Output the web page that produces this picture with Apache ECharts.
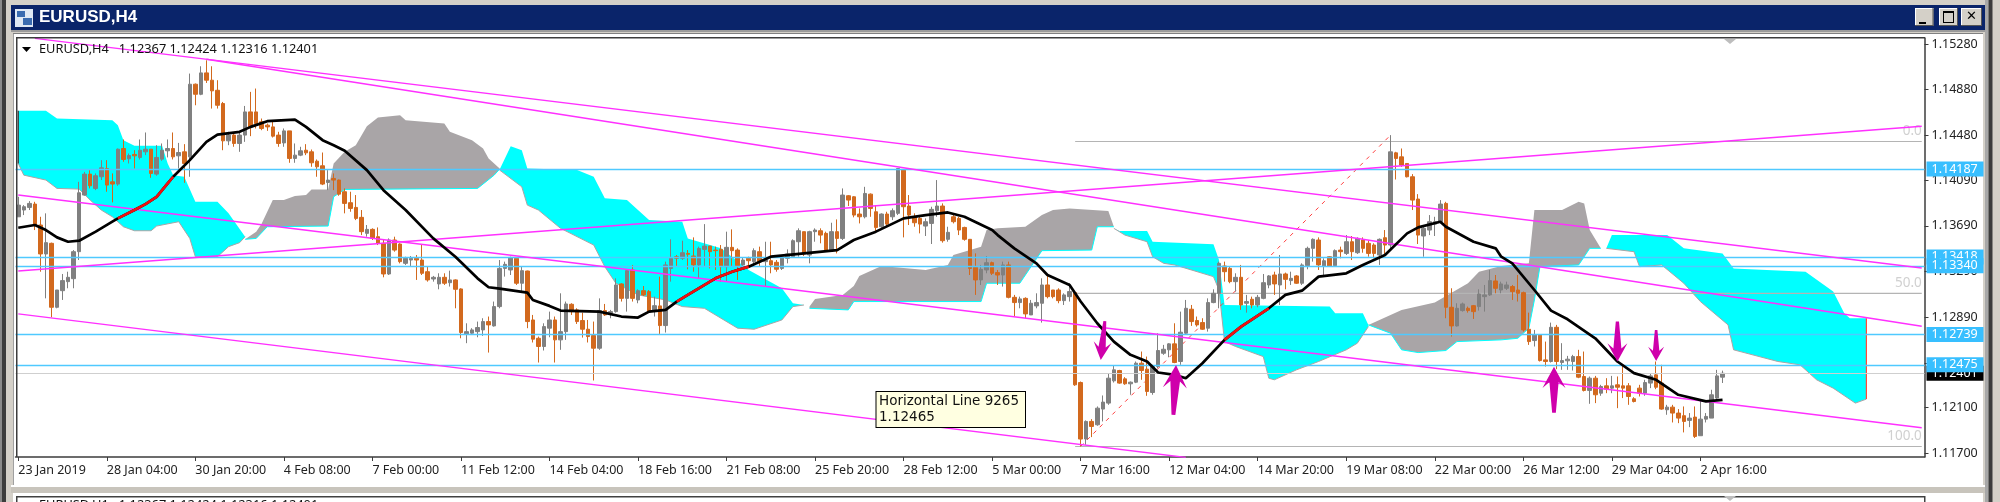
<!DOCTYPE html>
<html><head><meta charset="utf-8"><title>EURUSD,H4</title>
<style>html,body{margin:0;padding:0;background:#d4d0c8}#c{width:2000px;height:502px}</style>
<script src="https://cdn.jsdelivr.net/npm/echarts@6/dist/echarts.min.js"></script></head>
<body><div id="c"></div>
<script>
// Prices below are in units of 0.00001
const tickLabels=['23 Jan 2019','28 Jan 04:00','30 Jan 20:00','4 Feb 08:00','7 Feb 00:00','11 Feb 12:00','14 Feb 04:00','18 Feb 16:00','21 Feb 08:00','25 Feb 20:00','28 Feb 12:00','5 Mar 00:00','7 Mar 16:00','12 Mar 04:00','14 Mar 20:00','19 Mar 08:00','22 Mar 00:00','26 Mar 12:00','29 Mar 04:00','2 Apr 16:00'];
const priceTicks=[1.1528,1.1488,1.1448,1.1409,1.1369,1.1329,1.1289,1.1249,1.121,1.117];
// [open, close, low, high]
const candleRows=[
[113769,113871,113769,113944],[113828,113857,113784,113871],[113851,113886,113828,113906],[113880,113697,113653,113900],[113697,113444,113289,113769],[113444,113543,113056,113799],[113537,112978,112891,113543],[112978,113129,112969,113129],[113123,113211,113042,113269],[113202,113240,113144,113289],
[113228,113464,113144,113478],[113464,113979,113391,114075],[113959,114142,113953,114162],[114142,114040,114017,114177],[114017,114128,114002,114148],[114119,114197,114090,114264],[114191,114046,113988,114264],[114075,114055,113895,114148],[114055,114360,114040,114366],[114366,114270,114250,114445],
[114276,114305,114235,114322],[114314,114302,114191,114351],[114288,114351,114270,114445],[114337,114360,114308,114506],[114360,114148,114110,114360],[114142,114288,114128,114395],[114273,114351,114258,114410],[114346,114366,114288,114445],[114366,114293,114270,114506],[114302,114331,114191,114415],
[114337,114235,114066,114404],[114293,114928,114119,115021],[114928,114840,114744,114934],[114840,115027,114832,115085],[115027,114963,114939,115137],[114963,114870,114715,115085],[114875,114744,114715,114963],[114759,114433,114351,114773],[114433,114483,114395,114512],[114483,114410,114381,114506],
[114410,114483,114337,114512],[114483,114686,114424,114738],[114686,114555,114474,114861],[114686,114584,114541,114890],[114599,114541,114526,114628],[114570,114555,114520,114584],[114555,114474,114462,114599],[114483,114410,114381,114512],[114415,114520,114381,114541],[114520,114279,114241,114520],
[114279,114308,114241,114410],[114308,114346,114299,114381],[114351,114328,114308,114404],[114337,114241,114206,114357],[114255,114206,114119,114270],[114215,114055,114046,114331],[114069,114090,114002,114177],[114104,114090,114002,114148],[114090,113967,113953,114095],[113988,113886,113799,114017],
[113892,113842,113813,113988],[113851,113755,113740,113959],[113764,113639,113609,113828],[113624,113659,113595,113697],[113659,113580,113566,113668],[113595,113537,113522,113676],[113537,113269,113240,113572],[113269,113566,113260,113580],[113566,113478,113464,113595],[113531,113377,113362,113537],
[113362,113406,113348,113420],[113391,113406,113339,113426],[113406,113391,113217,113435],[113391,113275,113260,113522],[113289,113217,113202,113333],[113225,113240,113202,113252],[113182,113240,113135,113275],[113240,113188,113173,113275],[113193,113217,113159,113298],[113217,113135,112969,113222],
[113138,112757,112707,113144],[112745,112765,112664,112838],[112751,112780,112736,112795],[112765,112801,112716,112853],[112780,112853,112728,112882],[112853,112824,112582,112897],[112815,112984,112809,113028],[112984,113318,112969,113391],[113318,113353,113246,113377],[113304,113414,113260,113420],
[113406,113188,113173,113406],[113188,113298,113121,113333],[113295,112853,112795,113298],[112867,112699,112670,112911],[112707,112635,112495,112722],[112635,112809,112600,112838],[112795,112867,112716,112940],[112867,112693,112495,112897],[112693,112765,112606,113100],[112765,113007,112693,113028],
[113004,112940,112911,113013],[112955,112853,112832,112969],[112862,112786,112713,112931],[112786,112722,112670,112867],[112731,112620,112338,112853],[112620,112949,112606,113056],[112949,112911,112902,113007],[112926,112940,112882,112955],[112940,113173,112931,113231],[113182,113056,113028,113188],
[113056,113298,112940,113304],[113304,113056,113028,113348],[113042,113123,113013,113135],[113123,113086,113077,113164],[113115,112940,112934,113129],[112946,112992,112897,113071],[112990,112818,112745,113246],[112818,113348,112757,113377],[113318,113406,113202,113572],[113420,113406,113333,113435],
[113406,113455,113391,113560],[113449,113441,113310,113478],[113426,113348,113289,113589],[113348,113493,113231,113508],[113484,113513,113333,113705],[113513,113464,113318,113513],[113478,113473,113304,113508],[113484,113333,113202,113522],[113333,113502,113202,113639],[113502,113473,113333,113659],
[113478,113342,113217,113493],[113348,113391,113318,113414],[113406,113385,113333,113420],[113377,113473,113333,113493],[113464,113377,113333,113508],[113377,113391,113164,113551],[113385,113348,113275,113551],[113371,113310,113289,113391],[113318,113414,113304,113420],[113406,113444,113362,113484],
[113420,113560,113414,113572],[113551,113647,113420,113668],[113639,113444,113426,113639],[113435,113639,113362,113647],[113639,113653,113551,113668],[113647,113609,113537,113668],[113624,113478,113464,113639],[113478,113639,113464,113717],[113639,113580,113449,113746],[113580,113959,113566,114017],
[113953,113915,113863,113959],[113944,113784,113764,113950],[113793,113769,113711,113842],[113769,113973,113755,114031],[113967,113842,113769,113973],[113813,113676,113639,113871],[113682,113793,113668,113799],[113793,113705,113682,113813],[113769,113822,113740,113842],[113799,114191,113784,114191],
[114177,113857,113589,114183],[113863,113784,113697,113959],[113769,113717,113682,113799],[113755,113705,113624,113769],[113688,113726,113601,113755],[113711,113834,113531,113857],[113822,113863,113769,114090],[113863,113560,113543,113886],[113572,113633,113551,113682],[113769,113726,113711,113784],
[113755,113653,113609,113769],[113676,113572,113560,113682],[113572,113318,113260,113572],[113327,113217,113086,113449],[113217,113310,113173,113348],[113304,113368,113275,113426],[113368,113275,113260,113377],[113281,113260,113173,113304],[113260,113348,113159,113377],[113348,113065,113056,113377],
[113065,113019,112897,113086],[113019,113051,112969,113071],[113056,112920,112882,113065],[112911,113013,112911,113042],[112990,113019,112969,113100],[113013,113173,112844,113231],[113173,113071,113056,113260],[113129,113071,113056,113129],[113129,113036,113013,113144],[113036,113086,112998,113100],
[113071,113115,113028,113188],[113106,112300,112291,113115],[112320,111826,111762,112329],[111826,111980,111776,111989],[111980,111936,111843,112000],[111951,112096,111942,112111],[112088,112149,111980,112207],[112140,112358,112125,112402],[112335,112431,112320,112466],[112425,112315,112309,112431],
[112352,112309,112300,112367],[112309,112323,112213,112329],[112323,112489,112315,112504],[112489,112425,112344,112591],[112437,112242,112204,112547],[112233,112460,112213,112475],[112460,112600,112446,112751],[112576,112611,112562,112649],[112606,112658,112541,112664],[112658,112495,112489,112838],
[112504,112760,112475,112940],[112751,112969,112736,113042],[112961,112853,112815,112998],[112862,112824,112809,112897],[112844,112786,112780,112882],[112795,113019,112765,113056],[113019,113100,113013,113135],[113100,113362,112969,113377],[113339,113289,113202,113377],[113318,113202,113188,113333],
[113202,113240,113115,113275],[113240,112998,112955,113348],[113013,113028,112931,113086],[113048,112998,112969,113071],[112998,113065,112978,113086],[113056,113193,113048,113269],[113173,113252,113144,113260],[113260,113182,113086,113289],[113173,113269,112998,113435],[113269,113222,113135,113281],
[113211,113231,113173,113289],[113252,113188,113182,113260],[113188,113348,113173,113362],[113342,113493,113310,113508],[113493,113572,113377,113580],[113566,113348,113304,113589],[113339,113385,113260,113406],[113420,113339,113333,113426],[113342,113473,113333,113484],[113478,113464,113406,113508],
[113449,113551,113435,113609],[113551,113464,113391,113601],[113455,113580,113444,113589],[113566,113493,113455,113589],[113537,113449,113420,113566],[113522,113449,113406,113537],[113435,113572,113348,113580],[113586,113522,113435,113653],[113522,114337,113493,114483],[114328,114279,114095,114337],
[114293,114221,114206,114366],[114235,114119,114113,114235],[114119,113915,113828,114142],[113924,113609,113531,113967],[113601,113668,113420,113682],[113653,113726,113609,113784],[113705,113726,113601,113769],[113726,113880,113711,113915],[113886,112978,112882,113900],[112978,112815,112722,113144],
[112815,112969,112809,113013],[112949,113007,112940,113019],[112969,112949,112931,112984],[112992,112940,112876,112998],[112984,113094,112949,113135],[113071,113086,112940,113173],[113086,113211,113077,113304],[113208,113144,113100,113260],[113129,113182,113100,113202],[113144,113173,113129,113202],
[113159,113115,113042,113173],[113129,113100,113028,113260],[113106,112780,112765,113115],[112786,112678,112649,112931],[112687,112736,112635,112780],[112736,112512,112504,112736],[112518,112504,112460,112678],[112504,112803,112495,112844],[112803,112504,112437,112824],[112495,112512,112431,112664],
[112510,112524,112431,112553],[112504,112547,112425,112562],[112547,112367,112358,112606],[112373,112251,112242,112591],[112251,112358,112134,112373],[112358,112213,112140,112378],[112227,112285,112204,112300],[112291,112262,112227,112358],[112271,112291,112227,112378],[112300,112279,112096,112373],
[112291,112271,112184,112475],[112291,112198,112125,112315],[112178,112154,112146,112192],[112271,112227,112198,112300],[112227,112320,112204,112344],[112315,112378,112271,112396],[112387,112279,112262,112504],[112315,112088,112082,112475],[112082,112105,112038,112125],[112105,112053,111971,112125],
[112053,112009,111965,112088],[112030,111980,111884,112111],[111989,112009,111930,112053],[112018,111849,111835,112111],[111855,112000,111855,112169],[112000,112024,111971,112053],[112009,112213,112009,112257],[112184,112378,112169,112431],[112367,112401,112316,112424]];
// moving average [bar, price]
const maLine=[[0,113673],[3,113697],[5,113653],[7,113589],[9,113551],[11,113560],[14,113639],[17,113726],[18,113755],[21,113828],[23,113880],[25,113944],[27,114061],[28,114119],[31,114264],[34,114424],[36,114488],[40,114512],[42,114555],[45,114605],[50,114619],[52,114555],[55,114439],[57,114395],[59,114346],[63,114177],[66,114002],[70,113828],[75,113580],[79,113420],[83,113231],[85,113153],[87,113141],[92,113106],[93,113042],[96,112990],[98,112949],[105,112940],[109,112897],[112,112888],[114,112940],[117,112955],[119,113028],[121,113086],[126,113231],[129,113289],[132,113333],[136,113420],[142,113449],[148,113478],[151,113566],[155,113639],[160,113755],[164,113784],[168,113807],[171,113769],[176,113653],[177,113609],[180,113493],[184,113362],[186,113260],[190,113173],[192,113028],[195,112838],[198,112678],[201,112562],[204,112504],[206,112408],[209,112387],[211,112358],[214,112489],[218,112693],[221,112809],[226,112969],[229,113086],[232,113123],[235,113246],[240,113275],[243,113348],[247,113435],[251,113624],[253,113676],[257,113726],[258,113682],[263,113551],[267,113493],[268,113420],[270,113362],[274,113129],[277,112949],[280,112873],[285,112707],[289,112504],[292,112402],[296,112344],[300,112213],[305,112155],[308,112169]];
const maRedRanges=[[18,28],[119,132],[218,226]];
// Ichimoku cloud outlines [bar, price]
const cyan1Upper=[[0,114695],[5,114695],[7,114628],[17,114613],[18,114570],[19,114439],[21,114389],[26,114389],[27,114235],[28,114133],[30,114119],[32,113900],[36,113900],[38,113799],[41,113595]];
const cyan1Lower=[[0,114235],[1,114133],[5,114090],[7,114017],[11,114011],[13,113915],[15,113828],[17,113769],[19,113682],[21,113647],[24,113647],[25,113688],[29,113726],[31,113580],[32,113420],[36,113420],[38,113508],[40,113543],[41,113595]];
const gray1Upper=[[41,113572],[43,113639],[44,113711],[46,113915],[48,113915],[50,113950],[52,113959],[53,114008],[56,114008],[57,114235],[59,114337],[61,114395],[63,114561],[65,114637],[69,114657],[70,114613],[77,114584],[78,114512],[82,114439],[84,114366],[85,114279],[87,114191]];
const gray1Lower=[[41,113572],[43,113580],[45,113682],[56,113688],[57,113944],[59,114008],[83,114017],[86,114133],[87,114186]];
const cyan2Upper=[[87,114183],[89,114386],[91,114351],[92,114191],[101,114177],[104,114119],[106,113930],[110,113915],[114,113740],[120,113726],[121,113580],[127,113493],[132,113304],[138,113144],[140,113013],[142,112998]];
const cyan2Lower=[[87,114177],[91,114031],[92,113871],[94,113828],[98,113668],[104,113522],[106,113333],[108,113188],[112,113086],[117,113042],[120,112984],[124,112969],[130,112795],[133,112786],[138,112867],[140,112984],[142,112998]];
const gray2Upper=[[143,112984],[144,113051],[149,113086],[151,113164],[152,113252],[156,113339],[164,113304],[168,113348],[169,113435],[174,113508],[175,113653],[177,113668],[182,113682],[185,113784],[187,113828],[190,113842],[197,113819],[198,113682]];
const gray2Lower=[[143,112969],[150,112955],[151,113028],[174,113028],[175,113188],[181,113188],[185,113473],[194,113478],[195,113682],[198,113682]];
const cyan3Upper=[[198,113668],[199,113645],[204,113645],[205,113551],[216,113528],[217,113391],[218,112998],[237,112984],[238,112926],[243,112926],[244,112824]];
const cyan3Lower=[[198,113668],[200,113609],[204,113551],[205,113420],[207,113362],[209,113348],[216,113246],[217,113129],[218,112678],[220,112635],[225,112547],[226,112358],[227,112344],[231,112431],[235,112504],[240,112606],[242,112664],[244,112809]];
const gray3Upper=[[244,112824],[250,112955],[256,113019],[262,113188],[264,113289],[268,113339],[273,113362],[274,113828],[279,113828],[282,113900],[283,113886],[284,113653],[286,113493]];
const gray3Lower=[[244,112824],[248,112751],[250,112606],[253,112582],[258,112600],[260,112678],[268,112693],[271,112707],[273,112795],[274,113042],[275,113333],[282,113348],[284,113493],[286,113493]];
const cyan4Upper=[[287,113493],[288,113609],[298,113609],[301,113493],[308,113449],[310,113318],[323,113289],[328,113115],[330,112926],[331,112882],[334,112882]];
const cyan4Lower=[[287,113493],[292,113464],[293,113333],[297,113348],[301,113188],[304,113028],[309,112824],[310,112606],[318,112504],[322,112475],[325,112344],[328,112271],[332,112140],[334,112175]];
const cloudEndLine=[[334,112882],[334,112175]];
const cloudStartLine=[[0,114695],[0,114235]];
// trend lines
const trendLines=[[[3,115329],[344,113321]],[[34,115146],[344,112812]],[[0,113959],[344,111925]],[[0,112920],[211,111665]],[[0,113295],[344,114561]]];
// horizontal levels
const levelPrices=[114187,113418,113340,112739,112475];
const bidPrice=112401;
// Fibonacci
const fiboLevels=[114427,113100,111761];
const fiboNames=['0.0','50.0','100.0'];
const fiboStart=191, fiboEnd=344;
const fiboDiagonal=[[192,111762],[248,114483]];
// arrows [bar, price]
const arrowUp=[[209,112256],[277,112256]];
const arrowDown=[[196,112687],[289,112678],[296,112643]];

const BARS=345;
const categories=Array.from({length:BARS},(_,i)=>(i%16===0&&tickLabels[i/16])||'');
const P=v=>v/1e5;
const pts=a=>a.map(([i,p])=>[i,P(p)]);
const font='"Noto Sans"';
const arrowPath='path://M50 0 L100 46 L70 33 L58 100 L42 100 L30 33 L0 46 Z';

const blobs=[
 {upper:cyan1Upper,lower:cyan1Lower,fill:'#00ffff',edge:'#a9a5a7'},
 {upper:gray1Upper,lower:gray1Lower,fill:'#a9a5a7',edge:'#00ffff'},
 {upper:cyan2Upper,lower:cyan2Lower,fill:'#00ffff',edge:'#a9a5a7'},
 {upper:gray2Upper,lower:gray2Lower,fill:'#a9a5a7',edge:'#00ffff'},
 {upper:cyan3Upper,lower:cyan3Lower,fill:'#00ffff',edge:'#a9a5a7'},
 {upper:gray3Upper,lower:gray3Lower,fill:'#a9a5a7',edge:'#00ffff'},
 {upper:cyan4Upper,lower:cyan4Lower,fill:'#00ffff',edge:'#a9a5a7'}
];

const tagStyle=(bg,color)=>({show:true,position:'end',distance:2,formatter:p=>p.value.toFixed(5),backgroundColor:bg,color:color,fontFamily:font,fontSize:12.5,padding:[1,5,1,5],width:47,height:13,lineHeight:13,align:'left',verticalAlign:'middle'});

const magenta='#ff30ff';
const series=[
 {type:'custom',name:'kumo',z:1,silent:true,data:blobs.map(b=>[b.upper[0][0],P(b.upper[0][1])]),encode:{x:0,y:1},
  renderItem:(params,api)=>{const b=blobs[params.dataIndex];
   const up=b.upper.map(([i,p])=>api.coord([i,P(p)]));
   const lo=b.lower.map(([i,p])=>api.coord([i,P(p)]));
   return {type:'group',children:[
    {type:'polygon',shape:{points:up.concat(lo.slice().reverse())},style:{fill:b.fill}},
    {type:'polyline',shape:{points:lo},style:{stroke:b.edge,fill:null,lineWidth:1}}]};}},
 ...fiboLevels.map(v=>({type:'line',z:2,silent:true,showSymbol:false,data:[[fiboStart,P(v)],[fiboEnd,P(v)]],lineStyle:{color:'#b4b4b4',width:1.2}})),
 {type:'scatter',z:2,silent:true,symbolSize:0,data:fiboLevels.map((v,k)=>({value:[fiboEnd,P(v)],label:{show:true,formatter:fiboNames[k],position:'top',distance:3,align:'right',color:'#c4c4c4',fontFamily:font,fontSize:13.5}}))},
 {type:'line',z:2,silent:true,showSymbol:false,data:pts(fiboDiagonal),lineStyle:{color:'#ff4040',width:1,type:[4,5]}},
 {type:'line',z:3,silent:true,showSymbol:false,data:pts(cloudEndLine),lineStyle:{color:'#ff4a3a',width:1.2}},
 {type:'line',z:3,silent:true,showSymbol:false,data:pts(cloudStartLine),lineStyle:{color:'#333333',width:1.2}},
 {type:'candlestick',z:4,silent:true,barWidth:4,data:candleRows.map(r=>r.map(P)),itemStyle:{color:'#808080',color0:'#d2691e',borderColor:'#808080',borderColor0:'#d2691e',borderWidth:1}},
 ...trendLines.map(t=>({type:'line',z:5,silent:true,showSymbol:false,data:pts(t),lineStyle:{color:magenta,width:1.4}})),
 {type:'line',z:6,silent:true,showSymbol:false,data:[[0,P(bidPrice)]],
  markLine:{silent:true,symbol:'none',animation:false,precision:5,data:[
   {yAxis:P(bidPrice),lineStyle:{color:'#cfcfcf',width:1.2,type:'solid'},label:tagStyle('#000','#fff')},
   ...levelPrices.map(v=>({yAxis:P(v),lineStyle:{color:'#4fc9ff',width:1.4,type:'solid'},label:tagStyle('#38bfff','#fff')}))]}},
 {type:'line',z:7,silent:true,showSymbol:false,data:pts(maLine),lineStyle:{color:'#000',width:2.7}},
 ...maRedRanges.map(([a,b])=>({type:'line',z:8,silent:true,showSymbol:false,data:pts(maLine.filter(r=>r[0]>=a&&r[0]<=b)),lineStyle:{color:'#ee1111',width:2.7}})),
 {type:'scatter',z:9,silent:true,symbol:arrowPath,itemStyle:{color:'#cf00ab',opacity:1},data:[
   {value:[arrowDown[0][0],P(arrowDown[0][1])],symbolRotate:174,symbolSize:[18,39]},
   {value:[arrowUp[0][0],P(arrowUp[0][1])],symbolRotate:-3,symbolSize:[24,50]},
   {value:[arrowUp[1][0],P(arrowUp[1][1])],symbolRotate:0,symbolSize:[23,46],symbolOffset:[3,0]},
   {value:[arrowDown[1][0],P(arrowDown[1][1])],symbolRotate:180,symbolSize:[20,40]},
   {value:[arrowDown[2][0],P(arrowDown[2][1])],symbolRotate:180,symbolSize:[16,31]}]}
];

const R=(x,y,w,h,fill,z)=>({type:'rect',shape:{x,y,width:w,height:h},style:{fill},z:z===undefined?-10:z,silent:true});
const T=(x,y,text,o,z)=>({type:'text',x,y,z:z===undefined?100:z,silent:true,style:Object.assign({text,fill:'#000',fontFamily:font,fontSize:12.8,verticalAlign:'middle'},o||{})});
const btn=(x,w)=>[R(x,8,w,18,'#d4d0c8',100),R(x,8,w,1,'#fff',101),R(x,8,1,18,'#fff',101),R(x,25,w,1,'#555',101),R(x+w-1,8,1,18,'#555',101)];
const graphicEls=[
 R(0,0,2000,502,'#d4d0c8'),
 R(0,0,2,502,'#8a8a8a'),R(2,0,4,502,'#3c3c3c'),
 R(11,5,1974,25,'#0a246a'),
 R(11,30,1974,2,'#9a9a9a'),
 R(13,34,1970,451,'#ffffff'),
 R(13,33,1970,1,'#808080'),
 R(13,34,1,451,'#a0a0a0'),
 R(1985,0,3.5,502,'#a8a8a8'),R(1988.5,0,4,502,'#3c3c3c'),
 R(11,485,1974,2,'#ffffff'),R(11,487,1974,6,'#c8c4bc'),
 R(13,493,1970,9,'#ffffff'),R(16,496,1909,1.5,'#404040'),R(16,496,1.5,6,'#404040'),R(1924,496,1.5,6,'#404040'),
 R(16,37,1909,1.5,'#3c3c3c',90),R(16,37,1.5,420,'#3c3c3c',90),
 R(15,9,18,18,'#dfe8f4',100),R(17,11,8,6,'#3a6bb0',101),R(23,18,9,7,'#3a6bb0',101),
 T(39,17.5,'EURUSD,H4',{fill:'#ffffff',fontSize:17,fontWeight:'bold',fontFamily:'"Liberation Sans"'}),
 ...btn(1915,18.5),...btn(1939,19),...btn(1961,21),
 R(1919,22,7,2,'#000',102),
 R(1943,11,11,2,'#000',102),R(1943,11,1,12,'#000',102),R(1953,11,1,12,'#000',102),R(1943,22,11,1,'#000',102),
 T(1971.5,17,'✕',{fontSize:13,align:'center',fontWeight:'bold',fontFamily:'"DejaVu Sans"'}),
 {type:'polygon',shape:{points:[[22,47],[31,47],[26.5,52]]},style:{fill:'#000'},z:100,silent:true},
 T(39,49,'EURUSD,H4   1.12367 1.12424 1.12316 1.12401',{fill:'#111'}),
 T(39,505,'EURUSD,H1   1.12367 1.12424 1.12316 1.12401',{fill:'#111'}),
 {type:'polygon',shape:{points:[[1724,39],[1736,39],[1730,44]]},style:{fill:'#bdbdbd'},z:100,silent:true},
 {type:'polygon',shape:{points:[[1724,496],[1736,496],[1730,501]]},style:{fill:'#bdbdbd'},z:100,silent:true},
 R(875.5,391,150.5,37,'#000000',50),R(876.5,392,148.5,35,'#ffffe1',51),
 T(879,401,'Horizontal Line 9265',{fill:'#111',fontFamily:'"DejaVu Sans"',fontSize:13.5},52),
 T(879,417,'1.12465',{fill:'#111',fontFamily:'"DejaVu Sans"',fontSize:13.5},52)
];

const chart=echarts.init(document.getElementById('c'),null,{renderer:'canvas',width:2000,height:502});
chart.setOption({
 animation:false,
 backgroundColor:'transparent',
 grid:{left:15.5,top:38,width:1909,height:419,containLabel:false},
 xAxis:{type:'category',data:categories,boundaryGap:true,
  axisLine:{show:true,lineStyle:{color:'#3c3c3c',width:1.5}},
  axisTick:{show:true,length:4,alignWithLabel:true,interval:(i,v)=>v!=='',lineStyle:{color:'#3c3c3c'}},
  axisLabel:{show:true,interval:(i,v)=>v!=='',align:'left',margin:7,color:'#222',fontFamily:font,fontSize:12.5,hideOverlap:false},
  splitLine:{show:false}},
 yAxis:{type:'value',position:'right',min:1.11669,max:1.15332,scale:true,
  axisLine:{show:true,lineStyle:{color:'#3c3c3c',width:1.5}},
  axisTick:{show:true,length:4,customValues:priceTicks,lineStyle:{color:'#3c3c3c'}},
  axisLabel:{show:true,customValues:priceTicks,margin:7,color:'#222',fontFamily:font,fontSize:12.5,formatter:v=>v.toFixed(5),hideOverlap:false},
  splitLine:{show:false}},
 series,
 graphic:{elements:graphicEls}
});
</script></body></html>
